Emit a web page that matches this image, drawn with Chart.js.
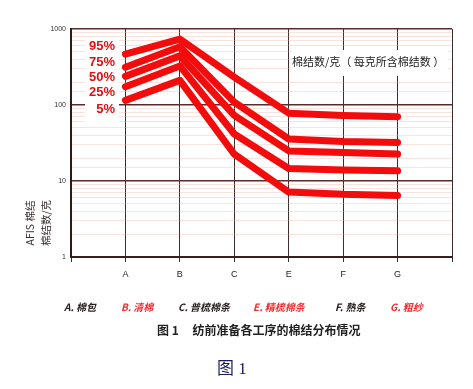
<!DOCTYPE html>
<html>
<head>
<meta charset="utf-8">
<script src="https://cdn.jsdelivr.net/npm/chart.js@4.4.1/dist/chart.umd.min.js"></script>
<style>
  body { margin: 0; background: #fff; }
  #wrap { position: relative; width: 473px; height: 389px; }
  .lg { position: absolute; top: 299px; font: italic bold 10px "Noto Sans CJK SC", sans-serif; line-height: 15px; white-space: nowrap; }
  .dark { color: #2a2020; }
  .red { color: #ee3030; }
  #cap { position: absolute; left: 157px; top: 322px; font: bold 12px "Noto Sans CJK SC", sans-serif; color: #222; white-space: nowrap; line-height: 16px; }
  #fig { position: absolute; left: 217px; top: 358px; font: 17px "Liberation Serif", "Noto Sans CJK SC", serif; color: #1c1c5c; white-space: nowrap; line-height: 22px; }
</style>
</head>
<body>
<div id="wrap">
  <canvas id="chart" width="473" height="389"></canvas>
  <span class="lg dark" style="left:64px">A. 棉包</span>
  <span class="lg red" style="left:121px">B. 清棉</span>
  <span class="lg dark" style="left:178px">C. 普梳棉条</span>
  <span class="lg red" style="left:253px">E. 精梳棉条</span>
  <span class="lg dark" style="left:335px">F. 熟条</span>
  <span class="lg red" style="left:390px">G. 粗纱</span>
  <div id="cap">图 1&nbsp;&nbsp;&nbsp;&nbsp;&nbsp;纺前准备各工序的棉结分布情况</div>
  <div id="fig">图 1</div>
</div>
<script>
// categorias (posições vazias nas bordas do gráfico)
const categorias = ['', 'A', 'B', 'C', 'E', 'F', 'G', ''];

// 棉结数/克 por percentil
const p95 = [null, 467, 738, 233, 78, 72.6, 70, null];
const p75 = [null, 314, 583, 109, 35.7, 33.2, 32.2, null];
const p50 = [null, 238, 443, 73, 24.9, 23.7, 22.6, null];
const p25 = [null, 174, 327, 41.5, 14.6, 14.0, 13.6, null];
const p5  = [null, 115, 211, 22.5, 7.15, 6.67, 6.46, null];

const seriesLabels = ['95%', '75%', '50%', '25%', '5%'];
const yTicks = [1, 10, 100, 1000];
const noteText = '棉结数/克（ 每克所含棉结数 ）';
const yTitle = ['AFIS 棉结', '棉结数/克'];

const RED = '#f20c0c';

function isDecade(v) {
    const l = Math.log10(v);
    return Math.abs(l - Math.round(l)) < 1e-9;
}

// rótulos dentro do gráfico
const labelsPlugin = {
    id: 'labelsPlugin',
    beforeDatasetsDraw(chart) {
        const { ctx, chartArea } = chart;
        ctx.save();
        // fundo branco dos percentuais
        ctx.fillStyle = '#fff';
        ctx.fillRect(chartArea.left + 14, chartArea.top + 8, 34, 88);
        // fundo branco da nota
        ctx.fillRect(chartArea.left + 220, chartArea.top + 21, 157, 26);

        ctx.font = 'bold 13px "Liberation Sans", Arial, sans-serif';
        ctx.fillStyle = '#e01010';
        ctx.textAlign = 'right';
        ctx.textBaseline = 'middle';
        const offs = [17, 33, 48, 63, 80];
        seriesLabels.forEach((t, i) => {
            ctx.fillText(t, chartArea.left + 44, chartArea.top + offs[i]);
        });

        ctx.font = '11px "Noto Sans CJK SC", sans-serif';
        ctx.fillStyle = '#222';
        ctx.textAlign = 'left';
        ctx.fillText(noteText, chartArea.left + 221, chartArea.top + 33);
        ctx.restore();
    },
    afterDraw(chart) {
        const { ctx } = chart;
        ctx.save();
        ctx.font = '10.5px "Noto Sans CJK SC", sans-serif';
        ctx.fillStyle = '#3a3030';
        ctx.textAlign = 'center';
        ctx.textBaseline = 'middle';
        yTitle.forEach((t, i) => {
            ctx.save();
            ctx.translate(30 + i * 16, 223);
            ctx.rotate(-Math.PI / 2);
            ctx.fillText(t, 0, 0);
            ctx.restore();
        });
        ctx.restore();
    }
};

const series = [p95, p75, p50, p25, p5];

const chart = new Chart(document.getElementById('chart').getContext('2d'), {
    type: 'line',
    data: {
        labels: categorias,
        datasets: series.map((d, i) => ({
            label: seriesLabels[i],
            data: d,
            borderColor: RED,
            backgroundColor: RED,
            borderWidth: 7,
            borderCapStyle: 'round',
            borderJoinStyle: 'round',
            pointRadius: 0,
            tension: 0,
            fill: false
        }))
    },
    options: {
        responsive: false,
        devicePixelRatio: 1,
        animation: false,
        layout: { padding: { left: 0, right: 21, top: 29, bottom: 0 } },
        plugins: {
            legend: { display: false },
            tooltip: { enabled: false }
        },
        scales: {
            x: {
                type: 'category',
                offset: false,
                grid: {
                    color: '#3b2d2d',
                    lineWidth: 1,
                    tickLength: 5,
                    tickColor: '#3b2d2d'
                },
                border: { color: '#3b1f1f', width: 2 },
                ticks: {
                    padding: 7,
                    color: '#222',
                    font: { size: 9, family: '"Liberation Sans", Arial, sans-serif' },
                    maxRotation: 0,
                    autoSkip: false
                },
                afterFit(scale) { scale.height = 132; }
            },
            y: {
                type: 'logarithmic',
                min: 1,
                max: 1000,
                grid: {
                    drawTicks: false,
                    color: ctx => isDecade(ctx.tick.value) ? '#5b2b2b' : 'rgba(238,175,160,0.35)',
                    lineWidth: ctx => isDecade(ctx.tick.value) ? 1.5 : 1
                },
                border: { color: '#2a1a1a', width: 2 },
                ticks: {
                    padding: 5,
                    color: '#333',
                    font: { size: 7, family: '"Liberation Sans", Arial, sans-serif' },
                    autoSkip: false,
                    callback: v => yTicks.includes(v) ? String(v) : ''
                },
                afterFit(scale) { scale.width = 71; }
            }
        }
    },
    plugins: [labelsPlugin]
});
</script>
</body>
</html>
